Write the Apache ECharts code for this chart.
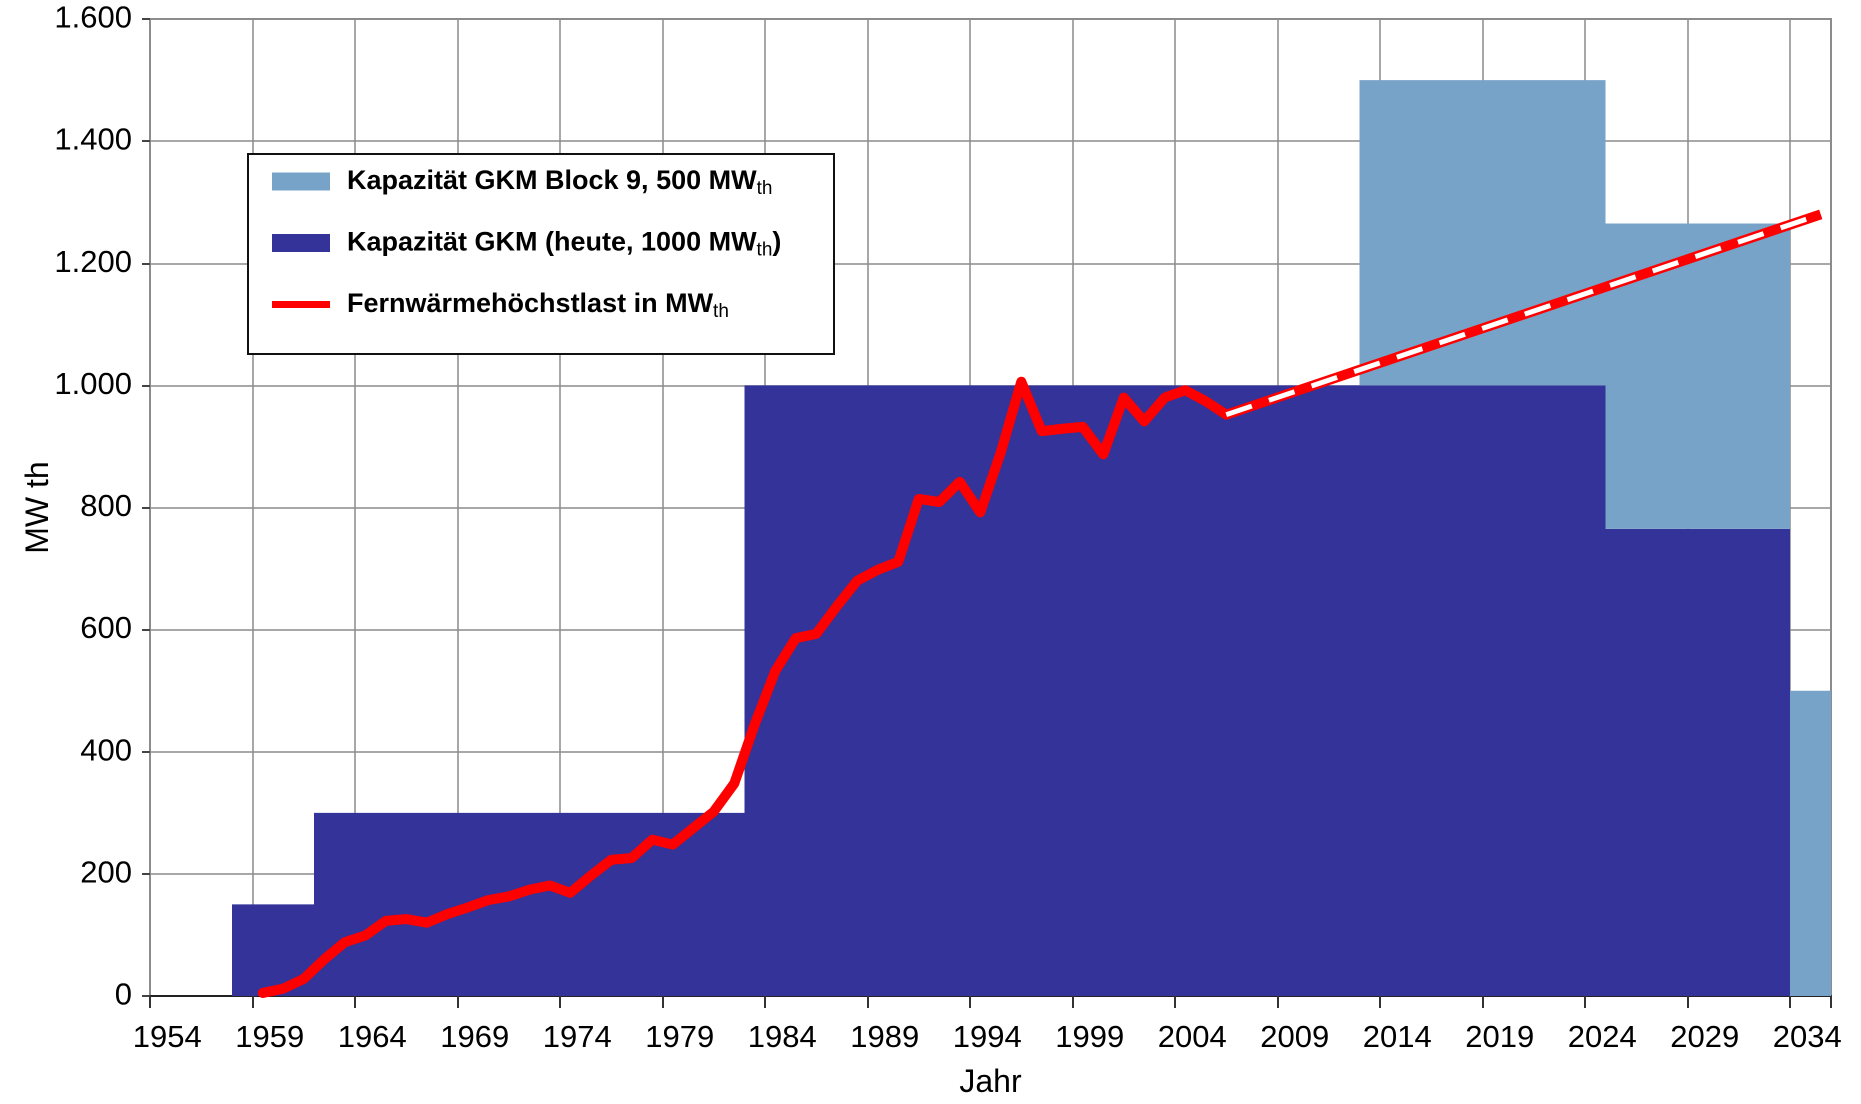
<!DOCTYPE html>
<html>
<head>
<meta charset="utf-8">
<script src="https://cdn.jsdelivr.net/npm/echarts@6/dist/echarts.min.js"></script>
<style>html,body{margin:0;padding:0;background:#fff}#c{width:1861px;height:1104px}</style>
</head>
<body>
<div id="c"></div>
<script>
// ---- data ----
const years = [
  '1954','1955','1956','1957','1958','1959','1960','1961','1962','1963',
  '1964','1965','1966','1967','1968','1969','1970','1971','1972','1973',
  '1974','1975','1976','1977','1978','1979','1980','1981','1982','1983',
  '1984','1985','1986','1987','1988','1989','1990','1991','1992','1993',
  '1994','1995','1996','1997','1998','1999','2000','2001','2002','2003',
  '2004','2005','2006','2007','2008','2009','2010','2011','2012','2013',
  '2014','2015','2016','2017','2018','2019','2020','2021','2022','2023',
  '2024','2025','2026','2027','2028','2029','2030','2031','2032','2033',
  '2034','2035'
];
// Kapazität GKM (heute)
const capacityToday = [
  null,null,null,null,150,150,150,150,300,300,
  300,300,300,300,300,300,300,300,300,300,
  300,300,300,300,300,300,300,300,300,1000,
  1000,1000,1000,1000,1000,1000,1000,1000,1000,1000,
  1000,1000,1000,1000,1000,1000,1000,1000,1000,1000,
  1000,1000,1000,1000,1000,1000,1000,1000,1000,1000,
  1000,1000,1000,1000,1000,1000,1000,1000,1000,1000,
  1000,765,765,765,765,765,765,765,765,765,
  null,null
];
// Kapazität GKM Block 9
const block9 = [
  null,null,null,null,null,null,null,null,null,null,
  null,null,null,null,null,null,null,null,null,null,
  null,null,null,null,null,null,null,null,null,null,
  null,null,null,null,null,null,null,null,null,null,
  null,null,null,null,null,null,null,null,null,null,
  null,null,null,null,null,null,null,null,null,500,
  500,500,500,500,500,500,500,500,500,500,
  500,500,500,500,500,500,500,500,500,500,
  500,500
];
// Fernwärmehöchstlast (Ist)
const peakLoad = [
  null,null,null,null,null,5,12,28,60,88,
  99,123,126,120,134,145,157,163,174,181,
  169,197,223,226,256,248,275,302,348,445,
  532,586,593,638,680,698,711,814,809,842,
  792,890,1006,925,929,932,887,980,941,980,
  992,974,952,null,null,null,null,null,null,null,
  null,null,null,null,null,null,null,null,null,null,
  null,null,null,null,null,null,null,null,null,null,
  null,null
];
// Prognose (Endpunkte)
const forecast = [
  null,null,null,null,null,null,null,null,null,null,
  null,null,null,null,null,null,null,null,null,null,
  null,null,null,null,null,null,null,null,null,null,
  null,null,null,null,null,null,null,null,null,null,
  null,null,null,null,null,null,null,null,null,null,
  null,null,952,null,null,null,null,null,null,null,
  null,null,null,null,null,null,null,null,null,null,
  null,null,null,null,null,null,null,null,null,null,
  null,1280
];
const yTickLabels = ['0','200','400','600','800','1.000','1.200','1.400','1.600'];

const NAME_B9 = 'Kapazität GKM Block 9, 500 MWth';
const NAME_TODAY = 'Kapazität GKM (heute, 1000 MWth)';
const NAME_LOAD = 'Fernwärmehöchstlast in MWth';
const legendRich = {};
legendRich[NAME_B9] = '{a|Kapazität GKM Block 9, 500 MW}{s|th}';
legendRich[NAME_TODAY] = '{a|Kapazität GKM (heute, 1000 MW}{s|th}{a|)}';
legendRich[NAME_LOAD] = '{a|Fernwärmehöchstlast in MW}{s|th}';

const FONT = '"Liberation Sans", Arial, sans-serif';
const DARK = '#333399';
const LIGHT = '#78A3C9';
const RED = '#ff0000';
const GRID = '#8c8c8c';
const every5 = function (i) { return i % 5 === 0; };

const chart = echarts.init(document.getElementById('c'), null, {renderer: 'canvas', devicePixelRatio: 2});
chart.setOption({
  animation: false,
  backgroundColor: '#fff',
  tooltip: {show: false},
  grid: {left: 150, right: 30, top: 19, bottom: 100, show: true,
         borderColor: GRID, borderWidth: 2, backgroundColor: '#fff'},
  graphic: [{
    type: 'rect', z: 3, silent: true,
    shape: {x: 248, y: 154, width: 586, height: 200},
    style: {fill: '#fff', stroke: '#111', lineWidth: 2}
  }],
  legend: {
    orient: 'vertical', left: 272, top: 168, padding: 0, itemGap: 31,
    itemWidth: 58, itemHeight: 18, selectedMode: false, z: 5,
    data: [
      {name: NAME_B9, icon: 'rect'},
      {name: NAME_TODAY, icon: 'rect'},
      {name: NAME_LOAD, icon: 'path://M0,0H58V7H0Z'}
    ],
    formatter: function (n) { return legendRich[n]; },
    textStyle: {
      color: '#000', padding: [0, 0, 0, 12],
      rich: {
        a: {fontFamily: FONT, fontSize: 27, fontWeight: 'bold', color: '#000', lineHeight: 34},
        s: {fontFamily: FONT, fontSize: 19, color: '#000', lineHeight: 12, verticalAlign: 'bottom'}
      }
    }
  },
  xAxis: {
    type: 'category', data: years, boundaryGap: true,
    name: 'Jahr', nameLocation: 'middle', nameGap: 71, nameMoveOverlap: false,
    nameTextStyle: {fontFamily: FONT, fontSize: 32, color: '#000'},
    axisLine: {show: true, lineStyle: {color: '#222', width: 2}},
    axisTick: {show: true, interval: every5, length: 12, lineStyle: {color: '#333', width: 2}},
    axisLabel: {interval: every5, margin: 27, fontFamily: FONT, fontSize: 31, color: '#000',
                padding: [0, 0, 0, 14]},
    splitLine: {show: true, interval: every5, lineStyle: {color: GRID, width: 1.5}}
  },
  yAxis: {
    type: 'value', min: 0, max: 1600, interval: 200,
    name: 'MW th', nameLocation: 'middle', nameGap: 95, nameMoveOverlap: false,
    nameTextStyle: {fontFamily: FONT, fontSize: 32, color: '#000'},
    axisLine: {show: true, lineStyle: {color: GRID, width: 2}},
    axisTick: {show: true, length: 8, lineStyle: {color: '#444', width: 2}},
    axisLabel: {margin: 18, fontFamily: FONT, fontSize: 31, color: '#000',
                formatter: function (v) { return yTickLabels[Math.round(v / 200)]; }},
    splitLine: {show: true, lineStyle: {color: GRID, width: 1.5}}
  },
  series: [
    {name: NAME_TODAY, type: 'bar', stack: 'cap', data: capacityToday,
     barCategoryGap: '0%', silent: true,
     itemStyle: {color: DARK}},
    {name: NAME_B9, type: 'bar', stack: 'cap', data: block9,
     barCategoryGap: '0%', silent: true,
     itemStyle: {color: LIGHT}},
    {name: NAME_LOAD, type: 'line', data: peakLoad, symbol: 'none', silent: true, z: 3,
     itemStyle: {color: RED},
     lineStyle: {color: RED, width: 10, cap: 'round', join: 'round'}},
    {name: 'Prognose', type: 'line', data: forecast, connectNulls: true, symbol: 'none', silent: true, z: 3,
     itemStyle: {color: RED},
     lineStyle: {color: RED, width: 10, cap: 'butt'}},
    {name: 'Prognose (Streifen)', type: 'line', data: forecast, connectNulls: true, symbol: 'none', silent: true, z: 4,
     itemStyle: {color: '#fff'},
     lineStyle: {color: '#fff', width: 5, type: [27, 18], dashOffset: 0, cap: 'butt'}}
  ]
});
</script>
</body>
</html>
